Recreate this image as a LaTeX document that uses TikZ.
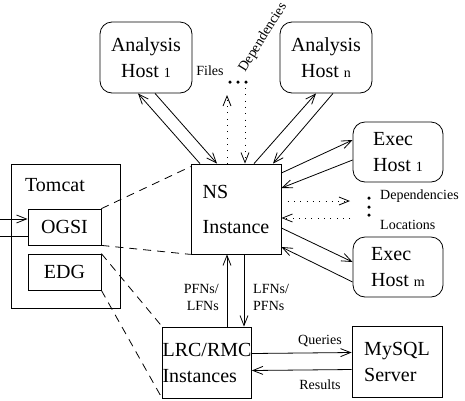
\documentclass[tikz,border=0pt]{standalone}
\usepackage{fontspec}
\setmainfont{Liberation Serif}
\usetikzlibrary{arrows.meta}

\newcommand{\hidx}[1]{{\fontsize{14}{14}\selectfont #1}}

\begin{document}
\begin{tikzpicture}[x=1pt,y=-1pt,
  box/.style={draw, line width=0.8pt, minimum width=90pt, minimum height=71pt,
    align=left, inner sep=0pt, font=\fontsize{20}{26}\selectfont},
  host/.style={box, rounded corners=12pt},
  lbl/.style={inner sep=0pt, font=\fontsize{14}{17}\selectfont},
  arr/.style={line width=0.8pt, -{Straight Barb[length=10pt,width=8pt]}},
  dashln/.style={line width=0.8pt, dash pattern=on 8pt off 6pt},
  dotln/.style={line width=0.8pt, dash pattern=on 0.8pt off 5.5pt},
  bullet/.style={circle, fill, inner sep=0pt, minimum size=3.5pt}]

\useasboundingbox (0,0) rectangle (465,400);

% hosts
\node[host, minimum width=92pt, align=center] (ah1) at (146,57.5) {Analysis\\Host \hidx{1}};
\node[host, minimum width=92pt, align=center] (ahn) at (326,57.5) {Analysis\\Host \hidx{n}};
\node[host, minimum height=60pt] (eh1) at (398,152) {Exec\\Host \hidx{1}};
\node[host, minimum height=60pt] (ehm) at (398,267) {Exec\\Host \hidx{m}};

% services
\node[box, minimum height=90pt] (ns) at (236,209) {NS\\[9pt]Instance};
\node[box, minimum width=88pt] (lrc) at (207,362.5) {LRC/RMC\\Instances};
\node[box] (mysql) at (397,361.5) {MySQL\\Server};

% tomcat
\node[box, minimum width=109pt, minimum height=144pt] (tomcat) at (65.5,236) {};
\node[inner sep=0pt, font=\fontsize{20}{26}\selectfont] (tomcatlbl) at (55,185) {Tomcat};
\node[box, minimum width=73pt, minimum height=36pt] (ogsi) at (64.5,227) {OGSI};
\node[box, minimum width=73pt, minimum height=36pt] (edg) at (64.5,272) {EDG};

\coordinate (in) at (-4,219);
\coordinate (out) at (-4,236);
\draw[arr] (in) -- (ogsi.west |- in);
\draw[line width=0.8pt] (ogsi.west |- out) -- (out);

% analysis hosts <-> ns
\draw[arr] ([xshift=-36pt]ns.north) -- ([xshift=-8pt]ah1.south);
\draw[arr] ([xshift=9pt]ah1.south) -- ([xshift=-19pt]ns.north);
\draw[arr] ([xshift=18pt]ns.north) -- ([xshift=-10pt]ahn.south);
\draw[arr] ([xshift=7pt]ahn.south) -- ([xshift=37pt]ns.north);

% files / dependencies
\coordinate (files) at (227,95);
\coordinate (deps) at (245,88);
\draw[dotln, arr] ([xshift=-9pt]ns.north) -- (files);
\draw[dotln, arr] (deps) -- ([xshift=9pt]ns.north);
\foreach \x in {230,238,246}
  \node[bullet] at (\x,82) {};
\node[lbl] (fileslbl) at (210,71) {Files};
\node[lbl, rotate=58, anchor=base west] (depslbl) at (245,73) {Dependencies};

% exec hosts <-> ns
\draw[arr] ([yshift=36pt]ns.east) -- ([yshift=12pt]eh1.west);
\draw[arr] ([yshift=-8pt]eh1.west) -- ([yshift=21pt]ns.east);
\draw[arr] ([yshift=-19pt]ns.east) -- ([yshift=5pt]ehm.west);
\draw[arr] ([yshift=-15pt]ehm.west) -- ([yshift=-38pt]ns.east);

% dependencies / locations
\coordinate (depr) at (350,201);
\coordinate (locr) at (350,218);
\draw[dotln, arr] ([yshift=8pt]ns.east) -- (depr);
\draw[dotln, arr] (locr) -- ([yshift=-9pt]ns.east);
\foreach \y in {198,207,215}
  \node[bullet] at (369,\y) {};
\node[lbl, anchor=west] (deplbl) at (380,196) {Dependencies};
\node[lbl, anchor=west] (loclbl) at (380,225) {Locations};

% ns <-> lrc
\draw[arr] ([xshift=20pt]lrc.north) -- ([xshift=-9pt]ns.south);
\draw[arr] ([xshift=8pt]ns.south) -- ([xshift=37pt]lrc.north);
\node[lbl, align=right, anchor=east] (pfnlbl) at (219,297) {PFNs/\\LFNs};
\node[lbl, align=left, anchor=west] (lfnlbl) at (253,297) {LFNs/\\PFNs};

% lrc <-> mysql
\draw[arr] ([yshift=9pt]lrc.east) -- ([yshift=9pt]mysql.west);
\draw[arr] ([yshift=-8pt]mysql.west) -- ([yshift=-8pt]lrc.east);
\node[lbl] (qlbl) at (320,341) {Queries};
\node[lbl] (rlbl) at (320,385) {Results};

% zoom lines
\draw[dashln] (ogsi.north east) -- ([yshift=-3pt]ns.north west);
\draw[dashln] (ogsi.south east) -- (ns.south west);
\draw[dashln] (edg.north east) -- (lrc.north west);
\draw[dashln] (edg.south east) -- (lrc.south west);
\end{tikzpicture}
\end{document}
